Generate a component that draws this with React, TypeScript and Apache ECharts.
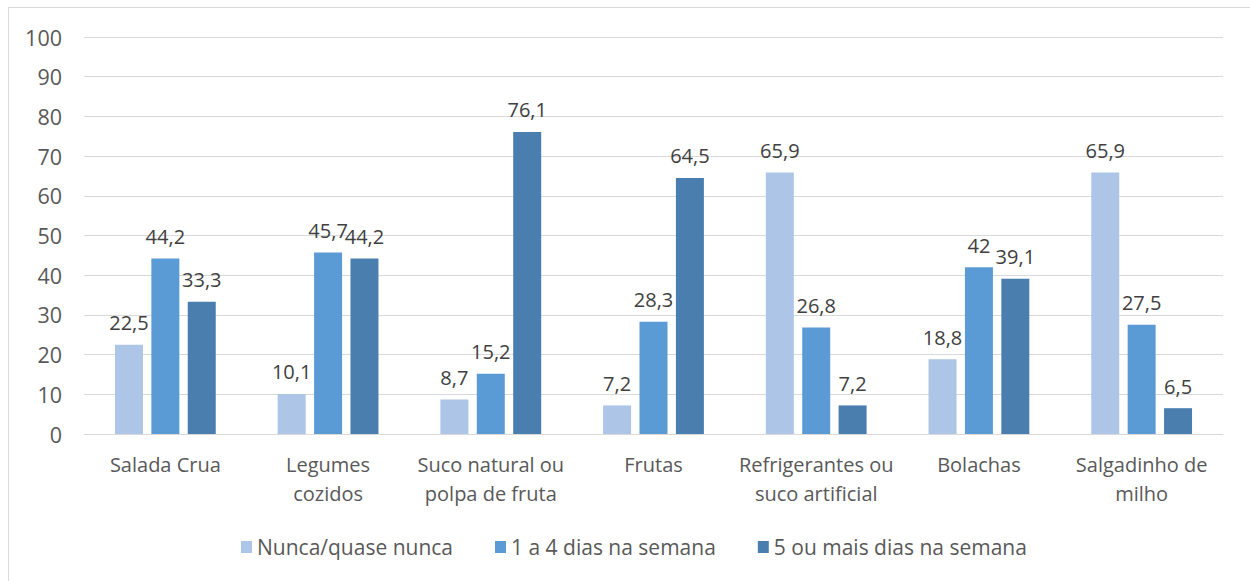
import React, { useEffect, useRef } from "react";
import * as echarts from "echarts";

const categories = [
  "Salada Crua",
  "Legumes\ncozidos",
  "Suco natural ou\npolpa de fruta",
  "Frutas",
  "Refrigerantes ou\nsuco artificial",
  "Bolachas",
  "Salgadinho de\nmilho",
];
const seriesNames = ["Nunca/quase nunca", "1 a 4 dias na semana", "5 ou mais dias na semana"];
const nunca = [22.5, 10.1, 8.7, 7.2, 65.9, 18.8, 65.9];
const umAQuatro = [44.2, 45.7, 15.2, 28.3, 26.8, 42, 27.5];
const cincoOuMais = [33.3, 44.2, 76.1, 64.5, 7.2, 39.1, 6.5];
const yTicks = { min: 0, max: 100, interval: 10 };
const colors = ["#ADC5E6", "#5B9BD5", "#4A7EAE"];

const FONT = "'Open Sans', 'Noto Sans', sans-serif";

export default function App() {
  const ref = useRef<HTMLDivElement>(null);
  useEffect(() => {
    if (!ref.current) return;
    const chart = echarts.init(ref.current, undefined, { renderer: "svg" });
    const data = [nunca, umAQuatro, cincoOuMais];
    chart.setOption({
      animation: false,
      textStyle: { fontFamily: FONT },
      grid: { left: 75, top: 29, right: 27, bottom: 147, containLabel: false },
      legend: {
        left: 232,
        top: 528,
        padding: 0,
        itemWidth: 11,
        itemHeight: 12,
        itemGap: 42,
        icon: "rect",
        textStyle: { fontFamily: FONT, fontSize: 21, color: "#595959", lineHeight: 22 },
        data: seriesNames,
      },
      xAxis: {
        type: "category",
        data: categories,
        axisLine: { lineStyle: { color: "#d9d9d9", width: 1 } },
        axisTick: { show: false },
        axisLabel: {
          fontFamily: FONT,
          fontSize: 20,
          color: "#595959",
          lineHeight: 29,
          margin: 16,
          interval: 0,
          align: "center",
        },
      },
      yAxis: {
        type: "value",
        min: yTicks.min,
        max: yTicks.max,
        interval: yTicks.interval,
        axisLine: { show: false },
        axisTick: { show: false },
        splitLine: { lineStyle: { color: "#d9d9d9", width: 1 } },
        axisLabel: { fontFamily: FONT, fontSize: 21.5, color: "#595959", margin: 22 },
      },
      series: seriesNames.map((name, i) => ({
        name,
        type: "bar",
        data: data[i],
        barWidth: 28,
        barGap: "30%",
        itemStyle: { color: colors[i] },
        label: {
          show: true,
          position: "top",
          distance: 12,
          fontFamily: FONT,
          fontSize: 20,
          color: "#404040",
          formatter: (p: any) => String(p.value).replace(".", ","),
        },
      })),
    });
    return () => chart.dispose();
  }, []);
  return (
    <div style={{ position: "fixed", left: 0, top: 0, width: 1250, height: 581, overflow: "hidden", background: "#fff" }}>
      <div
        style={{
          position: "absolute",
          left: 8,
          top: 7,
          width: 1242,
          height: 574,
          borderLeft: "1px solid #d9d9d9",
          borderTop: "1px solid #d9d9d9",
        }}
      />
      <div ref={ref} style={{ position: "absolute", left: 9, top: 8, width: 1241, height: 573 }} />
    </div>
  );
}
